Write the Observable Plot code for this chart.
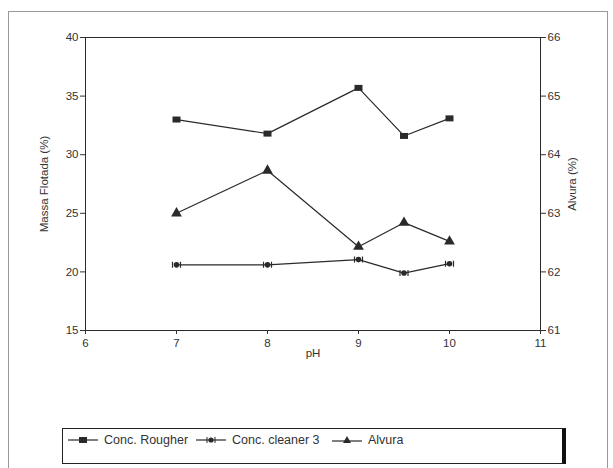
<!DOCTYPE html>
<html>
<head>
<meta charset="utf-8">
<script src="https://cdn.jsdelivr.net/npm/d3@7"></script>
<script src="https://cdn.jsdelivr.net/npm/@observablehq/plot@0.6"></script>
<style>
  body { margin: 0; background: #fff; font-family: "Liberation Sans", Arial, sans-serif; }
  #wrap { position: relative; width: 613px; height: 468px; overflow: hidden; }
  #frame { position: absolute; left: 8px; top: 11px; width: 600px; height: 470px; border: 1px solid #999; box-sizing: border-box; }
  #chart { position: absolute; left: 0; top: 0; }
  #legend { position: absolute; left: 62px; top: 428px; width: 504px; height: 36px; border: 1px solid #222; border-right: 4px solid #111; box-sizing: border-box; font-size: 12.5px; color: #333; }
  #legend .item { position: absolute; top: 4px; display: flex; align-items: center; }
  #legend svg { margin-right: 6px; }
</style>
</head>
<body>
<div id="wrap">
  <div id="frame"></div>
  <div id="chart"></div>
  <div id="legend"></div>
</div>
<script>
const pH = [7, 8, 9, 9.5, 10];
const concRougher = [33.0, 31.8, 35.7, 31.6, 33.1];
const concCleaner3 = [20.6, 20.6, 21.05, 19.9, 20.7];
const alvura = [63.0, 63.73, 62.43, 62.84, 62.52];
const xTicks = [6, 7, 8, 9, 10, 11];
const leftTicks = [15, 20, 25, 30, 35, 40];
const rightTicks = [61, 62, 63, 64, 65, 66];
const seriesNames = ["Conc. Rougher", "Conc. cleaner 3", "Alvura"];

// map right axis (61..66) onto left scale (15..40)
const toLeft = v => 15 + (v - 61) * 5;
const toRight = v => 61 + (v - 15) / 5;

const r = pH.map((p, i) => ({pH: p, y: concRougher[i]}));
const c = pH.map((p, i) => ({pH: p, y: concCleaner3[i]}));
const a = pH.map((p, i) => ({pH: p, y: toLeft(alvura[i])}));
const ink = "#2a2a2a";

// custom symbols
const rectSym = {draw(ctx, size) { const w = 4, h = 3; ctx.rect(-w, -h, 2 * w, 2 * h); }};
const cleanerSym = {draw(ctx, size) {
  ctx.moveTo(2.8, 0); ctx.arc(0, 0, 2.8, 0, 2 * Math.PI);
  ctx.rect(-4.6, -3, 1.2, 6); ctx.rect(3.4, -3, 1.2, 6);
}};

const plot = Plot.plot({
  width: 613,
  height: 420,
  marginLeft: 85,
  marginRight: 73,
  marginTop: 37,
  marginBottom: 90,
  style: {fontFamily: "Liberation Sans, Arial, sans-serif", fontSize: "11px", color: "#333", background: "transparent"},
  x: {type: "linear", domain: [6, 11]},
  y: {type: "linear", domain: [15, 40]},
  marks: [
    Plot.frame({stroke: ink, strokeWidth: 1}),
    Plot.axisX({ticks: xTicks, tickSize: 4, tickPadding: 4, tickFormat: d => String(d), label: "pH", labelAnchor: "center", labelArrow: "none", labelOffset: 26, fontSize: 11.5}),
    Plot.axisY({ticks: leftTicks, tickSize: 5, tickPadding: 2, tickFormat: d => String(d), label: "Massa Flotada (%)", labelAnchor: "center", labelArrow: "none", labelOffset: 46, fontSize: 11.5}),
    Plot.axisY({anchor: "right", ticks: rightTicks.map(toLeft), tickSize: 5, tickPadding: 2, tickFormat: d => String(Math.round(toRight(d))), label: null, fontSize: 11.5}),
    Plot.text(["Alvura (%)"], {frameAnchor: "right", dx: 32, rotate: -90, textAnchor: "middle", fontSize: 11.5, fill: "#333"}),
    Plot.line(r, {x: "pH", y: "y", stroke: ink, strokeWidth: 1.2}),
    Plot.line(c, {x: "pH", y: "y", stroke: ink, strokeWidth: 1.2}),
    Plot.line(a, {x: "pH", y: "y", stroke: ink, strokeWidth: 1.2}),
    Plot.dot(r, {x: "pH", y: "y", symbol: rectSym, fill: ink, stroke: "none"}),
    Plot.dot(c, {x: "pH", y: "y", symbol: cleanerSym, fill: ink, stroke: "none"}),
    Plot.dot(a, {x: "pH", y: "y", symbol: "triangle", r: 4, fill: ink, stroke: "none"})
  ]
});
document.getElementById("chart").appendChild(plot);

// legend
const legend = document.getElementById("legend");
const legendPos = [5, 133, 269];
const markerSvg = [
  '<svg width="30" height="10"><line x1="0" y1="5" x2="30" y2="5" stroke="#2a2a2a" stroke-width="1.2"/><rect x="11" y="2" width="8" height="6" fill="#2a2a2a"/></svg>',
  '<svg width="30" height="10"><line x1="0" y1="5" x2="30" y2="5" stroke="#2a2a2a" stroke-width="1.2"/><circle cx="15" cy="5" r="2.6" fill="#2a2a2a"/><line x1="11" y1="2" x2="11" y2="8" stroke="#2a2a2a"/><line x1="19" y1="2" x2="19" y2="8" stroke="#2a2a2a"/></svg>',
  '<svg width="30" height="10"><line x1="0" y1="6" x2="30" y2="6" stroke="#2a2a2a" stroke-width="1.2"/><path d="M15,1 L19,8 L11,8 Z" fill="#2a2a2a"/></svg>'
];
seriesNames.forEach((name, i) => {
  const it = document.createElement("div");
  it.className = "item";
  it.style.left = legendPos[i] + "px";
  it.innerHTML = markerSvg[i] + "<span>" + name + "</span>";
  legend.appendChild(it);
});
</script>
</body>
</html>
